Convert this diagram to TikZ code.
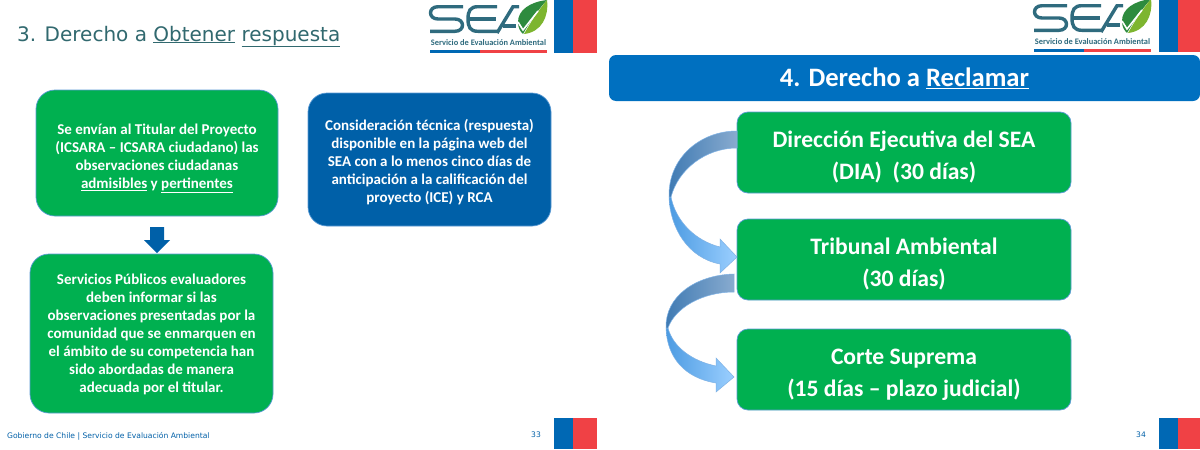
\documentclass[tikz,border=0pt]{standalone}
\usepackage{fontspec}
\setmainfont{Carlito}
\newfontfamily\verd{DejaVu Sans}
\usetikzlibrary{shapes.arrows}
\definecolor{gr}{HTML}{00B050}
\definecolor{bl}{HTML}{0060A8}
\definecolor{hd}{HTML}{0070C0}
\definecolor{edge}{HTML}{5B9BD5}
\definecolor{fblue}{HTML}{0068B4}
\definecolor{fred}{HTML}{F04145}
\definecolor{teal}{HTML}{2F6B7E}
\definecolor{titlec}{HTML}{31696F}
\definecolor{leafd}{HTML}{2E8B3E}
\definecolor{leafl}{HTML}{7DB52F}
\definecolor{arrline}{HTML}{7FB2E5}
\definecolor{arrdark}{HTML}{3F7AB3}
\definecolor{arrdarkr}{HTML}{88ABCF}
\definecolor{arrlight}{HTML}{4C9BE2}
\definecolor{arrlightr}{HTML}{9BCFFF}
\newcommand\lowerby[1]{\rule{0pt}{#1}}
\tikzset{
  x=1pt,y=-1pt,
  greenbox/.style={draw=edge,line width=.7pt,fill=gr,text=white,align=center,inner sep=0pt,font=\fontsize{15}{18}\selectfont\bfseries,rounded corners=19pt,minimum width=#1},
  bigbox/.style={draw=edge,line width=.7pt,fill=gr,text=white,align=center,inner sep=0pt,font=\fontsize{23.6}{32}\selectfont\bfseries,rounded corners=11pt,minimum width=334pt,minimum height=81pt},
  bluebox/.style={draw=edge,line width=.7pt,fill=bl,text=white,align=center,inner sep=0pt,font=\fontsize{15}{18}\selectfont\bfseries,rounded corners=19pt,minimum width=243pt,minimum height=133pt},
  header/.style={fill=hd,text=white,align=center,inner sep=0pt,font=\fontsize{26.6}{30}\selectfont\bfseries,rounded corners=7pt,minimum width=591pt,minimum height=46pt},
  foot/.style={inner sep=0pt,text=bl,font=\verd\fontsize{7.6}{9}\selectfont},
  darkpart/.style={left color=arrdark,right color=arrdarkr,draw=arrline,line width=.5pt},
  lightpart/.style={left color=arrlight,right color=arrlightr,draw=arrline,line width=.5pt},
  pics/sealogo/.style={code={
    \begin{scope}[teal,line width=3.4pt]
      \draw (463,6.7) -- (438,6.7) .. controls (428,6.7) and (428,19) .. (438,19) -- (455,19) .. controls (465,19) and (465,31.3) .. (455,31.3) -- (430,31.3);
      \draw (497,6.7) -- (478,6.7) .. controls (470,6.7) and (468,11) .. (468,19) .. controls (468,27) and (470,31.3) .. (478,31.3) -- (497,31.3);
      \draw (469,19) -- (496,19);
      \draw (497,33) -- (513,6.7) -- (519,6.7);
      \draw (503,26) -- (516,26);
    \end{scope}
    \fill[leafd] (547,0) .. controls (530,2) and (518,10) .. (518,22) .. controls (518,28) and (520,31) .. (523,34) .. controls (530,22) and (536,12) .. (547,0) -- cycle;
    \fill[leafl] (547,0) .. controls (549,16) and (542,32) .. (524,34) .. controls (531,22) and (537,12) .. (547,0) -- cycle;
    \draw[white,line width=1.6pt] (518,22) -- (523,30) -- (538,11);
    \node[inner sep=0pt,text=teal,font=\fontsize{8.4}{9}\selectfont\bfseries] at (488.5,42.5) {Servicio de Evaluación Ambiental};
    \fill[fblue] (430,50) rectangle (479.5,53);
    \fill[fred] (479.5,50) rectangle (547,53);
  }}
}
\begin{document}
\begin{tikzpicture}
\useasboundingbox (0,0) rectangle (1200,450);
\fill[white] (0,0) rectangle (1200,450);

% --- left slide ---
\node[inner sep=0pt,anchor=base west,text=titlec,font=\verd\fontsize{20}{24}\selectfont] (title3) at (17,41) {3. Derecho a \underline{Obtener} \underline{respuesta}};
\pic at (0,0) {sealogo};
\fill[fblue] (554,0) rectangle (573,53);
\fill[fred] (573,0) rectangle (597,53);

\node[greenbox=242pt,minimum height=126pt] (tit) at (157,153) {\lowerby{22pt}Se envían al Titular del Proyecto\\(ICSARA – ICSARA ciudadano) las\\observaciones ciudadanas\\\underline{admisibles} y \underline{pertinentes}};
\node[bluebox] (tec) at (429.5,159.5) {\lowerby{16pt}Consideración técnica (respuesta)\\disponible en la página web del\\SEA con a lo menos cinco días de\\anticipación a la calificación del\\proyecto (ICE) y RCA};
\node[greenbox=243pt,minimum height=159pt] (ser) at (151.5,333.5) {\lowerby{13pt}Servicios Públicos evaluadores\\deben informar si las\\observaciones presentadas por la\\comunidad que se enmarquen en\\el ámbito de su competencia han\\sido abordadas de manera\\adecuada por el titular.};
\fill[bl] (150,227) -- (164,227) -- (164,240) -- (170,240) -- (157,253) -- (144,240) -- (150,240) -- cycle;

\node[foot,anchor=base west] (gob) at (7,438) {Gobierno de Chile | Servicio de Evaluación Ambiental};
\node[foot,anchor=base west] (n33) at (531,437) {33};
\fill[fblue] (554,418) rectangle (573,449);
\fill[fred] (573,418) rectangle (597,449);

% --- right slide ---
\pic at (604,-1) {sealogo};
\fill[fblue] (1159,0) rectangle (1177.5,52);
\fill[fred] (1177.5,0) rectangle (1200,52);
\node[header] (hdr) at (904.5,78) {4. Derecho a \underline{Reclamar}};

\node[bigbox] (dir) at (904,152.5) {\lowerby{26pt}Dirección Ejecutiva del SEA\\(DIA)\ \ (30 días)};
\node[bigbox] (tri) at (904,259.5) {\lowerby{26pt}Tribunal Ambiental\\(30 días)};
\node[bigbox] (cor) at (904,369.5) {\lowerby{26pt}Corte Suprema\\(15 días – plazo judicial)};

% curved arrow 1
\shade[lightpart] (669,197) .. controls (670,228) and (688,258) .. (720,264) -- (720,273) -- (737,257) -- (720,239) -- (720,247) .. controls (696,241) and (676,222) .. (671,197) -- cycle;
\shade[darkpart] (737,131) .. controls (700,131) and (668,158) .. (669,197) -- (671,197) .. controls (678,170) and (705,148) .. (737,148) -- cycle;
% curved arrow 2
\shade[lightpart] (666,328) .. controls (667,358) and (685,378) .. (716,383) -- (716,392) -- (734,377) -- (716,358) -- (716,366) .. controls (692,361) and (673,347) .. (668,328) -- cycle;
\shade[darkpart] (734,274) .. controls (696,275) and (665,296) .. (666,328) -- (668,328) .. controls (675,308) and (702,292) .. (734,292) -- cycle;

\node[foot,anchor=base west] (n34) at (1136,437) {34};
\fill[fblue] (1159,418) rectangle (1178,449);
\fill[fred] (1178,418) rectangle (1200,449);
\end{tikzpicture}
\end{document}
